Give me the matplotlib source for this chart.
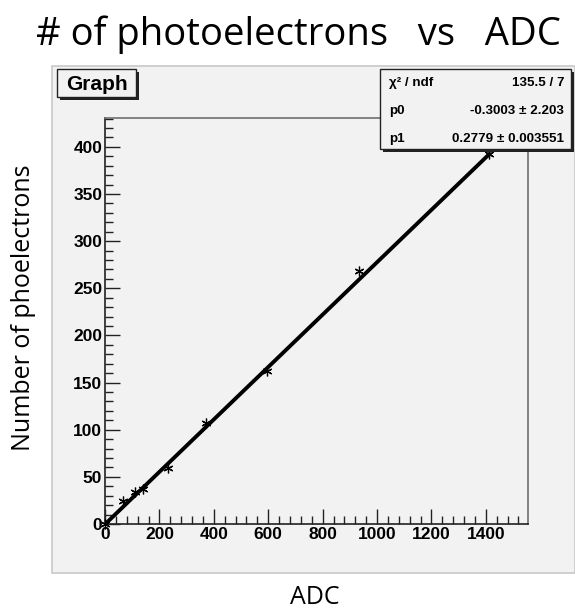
import numpy as np
import matplotlib.pyplot as plt
from matplotlib.patches import Rectangle

W, H = 575, 612

# measured points
adc = [0, 66, 112, 138, 230, 373, 596, 935, 1413]
npe = [0, 24, 34, 37, 59, 107.6, 162.7, 268.6, 392]

# fit result (pol1)
p0, p0_err = -0.3003, 2.203
p1, p1_err = 0.2779, 0.003551
chi2, ndf = 135.5, 7

X_MAX = 1555
Y_MAX = 430.6
CANVAS = '#f2f2f2'


def fx(px):
    return px / W


def fy(py):
    return 1 - py / H


fig = plt.figure(figsize=(W / 100, H / 100), dpi=100)

# ROOT canvas background
fig.patches.append(Rectangle((fx(52), fy(573)), fx(575) - fx(52), fy(66) - fy(573),
                             transform=fig.transFigure, facecolor=CANVAS,
                             edgecolor='#c8c8c8', linewidth=1.2, zorder=-5))

ax = fig.add_axes([fx(105), fy(524), fx(528) - fx(105), fy(118) - fy(524)])
ax.set_facecolor(CANVAS)
ax.set_xlim(0, X_MAX)
ax.set_ylim(0, Y_MAX)

# fit line over the data range
xf = np.array([0, max(adc)])
ax.plot(xf, p0 + p1 * xf, color='black', linewidth=2.8, zorder=2)
ax.plot(adc, npe, linestyle='none', marker=(6, 2, 0), markersize=7,
        markeredgewidth=0.9, color='black', zorder=3, clip_on=False)

ax.set_xticks(np.arange(0, 1401, 200))
ax.set_xticks(np.arange(0, X_MAX, 40), minor=True)
ax.set_yticks(np.arange(0, 401, 50))
ax.set_yticks(np.arange(0, Y_MAX, 10), minor=True)
ax.tick_params(which='both', direction='in', width=1, color='#222222')
ax.tick_params(which='major', length=11, labelsize=12.5, pad=2)
ax.tick_params(which='minor', length=5.5)
for lab in ax.get_xticklabels() + ax.get_yticklabels():
    lab.set_fontweight('bold')
    lab.set_family('Liberation Sans')

for s in ['left', 'bottom']:
    ax.spines[s].set_color('#222222')
    ax.spines[s].set_linewidth(1.2)
for s in ['top', 'right']:
    ax.spines[s].set_color('#6e6e6e')
    ax.spines[s].set_linewidth(1.2)


def box(x0, y0, x1, y1, z=5):
    # box with a drop shadow, pixel coordinates
    fig.patches.append(Rectangle((fx(x0 + 3), fy(y1 + 3)), fx(x1) - fx(x0), fy(y0) - fy(y1),
                                 transform=fig.transFigure, facecolor='#222222',
                                 edgecolor='none', zorder=z))
    fig.patches.append(Rectangle((fx(x0), fy(y1)), fx(x1) - fx(x0), fy(y0) - fy(y1),
                                 transform=fig.transFigure, facecolor=CANVAS,
                                 edgecolor='#222222', linewidth=1, zorder=z + 1))


# graph title box
box(57, 69, 136, 97)
fig.text(fx(96.5), fy(84), 'Graph', ha='center', va='center', fontsize=15,
         fontweight='bold', family='Liberation Sans', zorder=10)

# stats box
box(380, 69, 571, 149)
rows = [('χ² / ndf', f'{chi2} / {ndf}', 83),
        ('p0', f'{p0} ± {p0_err}', 111),
        ('p1', f'{p1} ± {p1_err}', 139)]
for name, val, yy in rows:
    fig.text(fx(389), fy(yy), name, ha='left', va='center', fontsize=9.6,
             fontweight='bold', family='Liberation Sans', zorder=10)
    fig.text(fx(564), fy(yy), val, ha='right', va='center', fontsize=9.6,
             fontweight='bold', family='Liberation Sans', zorder=10)

# slide title and axis captions
fig.text(fx(298), fy(35), '# of photoelectrons   vs   ADC', ha='center', va='center',
         fontsize=27.5, family='Open Sans')
fig.text(fx(24), fy(308), 'Number of phoelectrons', ha='center', va='center',
         rotation=90, fontsize=18, family='Open Sans')
fig.text(fx(315), fy(597), 'ADC', ha='center', va='center', fontsize=18, family='Open Sans')

fig.savefig('out.png', dpi=100)
